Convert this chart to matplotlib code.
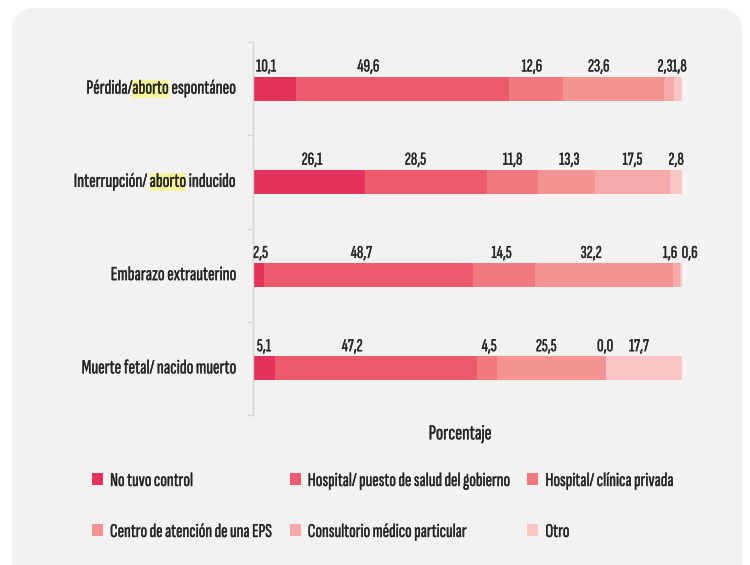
import matplotlib
matplotlib.use('Agg')
import matplotlib.pyplot as plt
import matplotlib.patheffects as pe
from matplotlib import font_manager
from matplotlib.patches import Patch, FancyBboxPatch
from matplotlib.transforms import IdentityTransform

# ---------------- data ----------------
categories = ["Pérdida/aborto espontáneo",
              "Interrupción/ aborto inducido",
              "Embarazo extrauterino",
              "Muerte fetal/ nacido muerto"]
series_names = ["No tuvo control",
                "Hospital/ puesto de salud del gobierno",
                "Hospital/ clínica privada",
                "Centro de atención de una EPS",
                "Consultorio médico particular",
                "Otro"]
no_control = [10.1, 26.1, 2.5, 5.1]
hosp_gob = [49.6, 28.5, 48.7, 47.2]
hosp_priv = [12.6, 11.8, 14.5, 4.5]
eps = [23.6, 13.3, 32.2, 25.5]
consultorio = [2.3, 17.5, 1.6, 0.0]
otro = [1.8, 2.8, 0.6, 17.7]
series = [no_control, hosp_gob, hosp_priv, eps, consultorio, otro]
x_label = "Porcentaje"
highlight_word = "aborto"

# styling
colors = ["#e5325a", "#eb5b6d", "#f07a7f", "#f39393", "#f6a9a9", "#f9c6c5"]
# horizontal nudges of value labels (percent units), per category row, per series
label_dx = [[-2.0, -8.0, -1.0, -3.5, -1.0, 0.3],
            [0.7, -2.5, 0.0, 0.7, 0.0, 0.0],
            [0.5, -1.6, -0.5, -3.0, -1.5, 2.0],
            [0.0, -5.6, 0.5, -1.2, -0.2, -1.2]]

names = {f.name for f in font_manager.fontManager.ttflist}
FAM = None
for cand in ["Sofia Sans Extra Condensed", "Fira Sans Extra Condensed",
             "PT Sans Narrow", "Saira Extra Condensed", "Barlow Condensed",
             "Roboto Condensed", "Asap Condensed", "Archivo Narrow"]:
    if cand in names:
        FAM = cand
        break
plt.rcParams['font.family'] = [FAM, "DejaVu Sans"] if FAM else ["DejaVu Sans"]
TXT = "#262626"
BOLDEN = [pe.withStroke(linewidth=0.25, foreground=TXT)]

W, H = 750, 565
fig = plt.figure(figsize=(W / 100, H / 100), dpi=100)
fig.patch.set_facecolor("white")
renderer = fig.canvas.get_renderer()


def fit_size(text, target_px, base=12.0):
    """font size (pt) so that `text` is target_px wide"""
    t = fig.text(0, 0, text, fontsize=base)
    w = t.get_window_extent(renderer).width
    t.remove()
    return base * target_px / w


def text_height(size):
    t = fig.text(0, 0, "Hg", fontsize=size)
    h = t.get_window_extent(renderer).height
    t.remove()
    return h


FS_CAT = min(fit_size("Pérdida/aborto espontáneo", 150), 17)
FS_VAL = min(fit_size("49,6", 22), 16)
FS_XL = min(fit_size(x_label, 63), 18)
FS_LEG = min(fit_size("Hospital/ puesto de salud del gobierno", 203), 17)

panel = FancyBboxPatch((12, -40), 730, H - 8 + 40,
                       boxstyle="round,pad=0,rounding_size=24",
                       transform=IdentityTransform(), facecolor="#f3f2f0",
                       edgecolor="none", zorder=-10)
fig.add_artist(panel)

ax = fig.add_axes([253 / W, 1 - 415 / H, 429 / W, 373 / H])
ax.set_facecolor("none")
ax.set_xlim(0, 100)
ax.set_ylim(3.5, -0.5)

bar_h = 0.26
for r in range(len(categories)):
    left = 0.0
    for s, vals in enumerate(series):
        v = vals[r]
        ax.barh(r, v, left=left, height=bar_h, color=colors[s], edgecolor="none")
        cx = left + v / 2 + label_dx[r][s]
        ax.annotate(f"{v:.1f}".replace(".", ","), xy=(cx, r - bar_h / 2),
                    xytext=(0, 1.5), textcoords="offset points",
                    ha="center", va="bottom", fontsize=FS_VAL, color=TXT,
                    annotation_clip=False, path_effects=BOLDEN)
        left += v

# spines / ticks
for sp in ["top", "right", "bottom"]:
    ax.spines[sp].set_visible(False)
ax.spines["left"].set_color("#d4d4d4")
ax.spines["left"].set_linewidth(1.0)
ax.set_xticks([])
ax.set_yticks([r for r in range(len(categories))])
ax.set_yticklabels([""] * len(categories))
ax.tick_params(axis="y", which="major", length=0)
ax.set_yticks([r - 0.5 for r in range(len(categories) + 1)], minor=True)
ax.tick_params(axis="y", which="minor", length=4, color="#d4d4d4", width=1)

# category labels with highlighted word
for r, cat in enumerate(categories):
    if highlight_word in cat:
        pre, post = cat.split(highlight_word, 1)
        # (text, highlighted, space to its right)
        pieces = [(pre.rstrip(), False, pre.endswith(" ")),
                  (highlight_word, True, post.startswith(" ")),
                  (post.strip(), False, False)]
    else:
        pieces = [(cat, False, False)]
    prev = None
    for text, hl, gap_after in reversed(pieces):
        kw = dict(fontsize=FS_CAT, color=TXT, ha="right", annotation_clip=False,
                  path_effects=BOLDEN)
        if hl:
            kw["bbox"] = dict(boxstyle="square,pad=0.0", facecolor="#f4f59c",
                              edgecolor="none")
        gap = 0.14 * FS_CAT if gap_after else 0
        if prev is None:
            t = ax.annotate(text, xy=(0, r), xycoords=("axes fraction", "data"),
                            xytext=(-12.5, 0), textcoords="offset points",
                            va="center", **kw)
        else:
            t = ax.annotate(text, xy=(0, 0), xycoords=prev,
                            xytext=(-gap, 0), textcoords="offset points",
                            va="bottom", **kw)
        prev = t

ax.set_xlabel(x_label, fontsize=FS_XL, color=TXT, path_effects=BOLDEN)
ax.xaxis.set_label_coords((460 - 253) / 429, -0.025)

# legend
fs_px = FS_LEG * 100 / 72
h_txt = text_height(FS_LEG)
order = [0, 3, 1, 4, 2, 5]
handles = [Patch(facecolor=colors[i], edgecolor="none", label=series_names[i]) for i in order]
leg = fig.legend(handles=handles, ncol=3, loc="upper left",
                 bbox_to_anchor=(92 / W, 1 - (481 - h_txt / 2) / H), frameon=False,
                 borderpad=0, borderaxespad=0,
                 fontsize=FS_LEG, handlelength=11 / fs_px, handleheight=12 / fs_px,
                 handletextpad=7 / fs_px, columnspacing=18 / fs_px,
                 labelspacing=(51 - h_txt) / fs_px, labelcolor=TXT)
for t in leg.get_texts():
    t.set_path_effects(BOLDEN)

fig.savefig("out.png", dpi=100)
